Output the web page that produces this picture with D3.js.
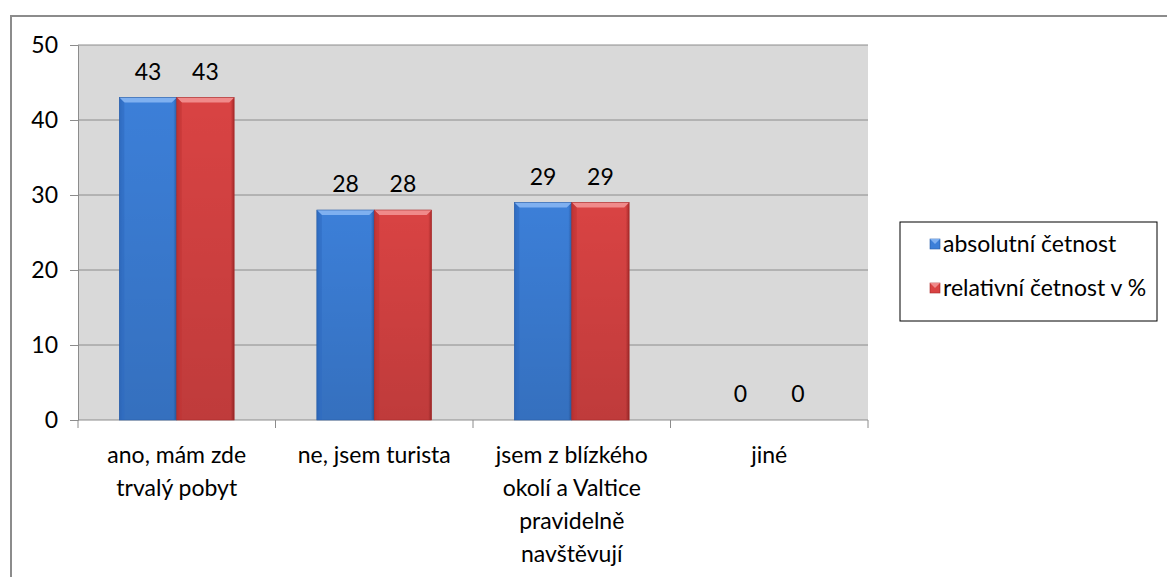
<!DOCTYPE html>
<html>
<head>
<meta charset="utf-8">
<script src="https://cdn.jsdelivr.net/npm/d3@7"></script>
<style>
  body { margin: 0; background: #fff; }
  svg { display: block; font-family: Lato, "Open Sans", sans-serif; }
</style>
</head>
<body>
<script>
// data
const categories = [
  ["ano, mám zde", "trvalý pobyt"],
  ["ne, jsem turista"],
  ["jsem z blízkého", "okolí a Valtice", "pravidelně", "navštěvují"],
  ["jiné"]
];
const seriesNames = ["absolutní četnost", "relativní četnost v %"];
const absolutni = [43, 28, 29, 0];
const relativni = [43, 28, 29, 0];
const yTicks = [0, 10, 20, 30, 40, 50];

const width = 1167, height = 577;
const plot = { left: 78, right: 868, top: 45, bottom: 420 };
const fs = 23;

const svg = d3.select("body").append("svg")
  .attr("width", width).attr("height", height);

// outer frame (cut off at right/bottom like the screenshot)
svg.append("path")
  .attr("d", `M11,${height + 2} V16 H${width + 2}`)
  .attr("fill", "none").attr("stroke", "#8c8c8c").attr("stroke-width", 2);

const x = d3.scaleBand().domain(d3.range(categories.length))
  .range([plot.left, plot.right]);
const xs = d3.scaleBand().domain([0, 1])
  .range([0, x.bandwidth()]).paddingOuter(0.72).paddingInner(0);
const y = d3.scaleLinear().domain([0, 50]).range([plot.bottom, plot.top]);

const defs = svg.append("defs");
const colors = [
  { main: "#3c7fd8", light: "#7fb0f0", dark: "#2a5ea8", side: "#2f6bbf" },
  { main: "#d94343", light: "#f08a8a", dark: "#a82a2a", side: "#bf3333" }
];
colors.forEach((c, i) => {
  const g = defs.append("linearGradient").attr("id", "bar" + i)
    .attr("x1", 0).attr("x2", 1).attr("y1", 0).attr("y2", 0);
  g.append("stop").attr("offset", 0).attr("stop-color", c.side);
  g.append("stop").attr("offset", 0.06).attr("stop-color", c.main);
  g.append("stop").attr("offset", 0.94).attr("stop-color", c.main);
  g.append("stop").attr("offset", 1).attr("stop-color", c.dark);
  const v = defs.append("linearGradient").attr("id", "shade" + i)
    .attr("x1", 0).attr("x2", 0).attr("y1", 0).attr("y2", 1);
  v.append("stop").attr("offset", 0).attr("stop-color", "#000").attr("stop-opacity", 0);
  v.append("stop").attr("offset", 1).attr("stop-color", "#000").attr("stop-opacity", 0.12);
});

// plot background
svg.append("rect")
  .attr("x", plot.left).attr("y", plot.top)
  .attr("width", plot.right - plot.left).attr("height", plot.bottom - plot.top)
  .attr("fill", "#d9d9d9");

// gridlines
svg.append("g").selectAll("line").data(yTicks.filter(d => d > 0)).join("line")
  .attr("x1", plot.left).attr("x2", plot.right)
  .attr("y1", d => y(d)).attr("y2", d => y(d))
  .attr("stroke", "#8c8c8c").attr("stroke-width", 1);

// y axis
const yAxis = svg.append("g")
  .attr("transform", `translate(${plot.left},0)`)
  .call(d3.axisLeft(y).tickValues(yTicks).tickSize(8).tickPadding(12));
yAxis.select(".domain").attr("stroke", "#8c8c8c");
yAxis.selectAll(".tick line").attr("stroke", "#8c8c8c");
yAxis.selectAll("text").attr("font-size", fs).attr("fill", "#000")
  .attr("font-family", "Lato, sans-serif");

// x axis
const xAxisG = svg.append("g").attr("transform", `translate(0,${plot.bottom})`);
xAxisG.append("line").attr("x1", plot.left).attr("x2", plot.right)
  .attr("stroke", "#8c8c8c");
xAxisG.selectAll("line.t").data(d3.range(categories.length + 1)).join("line")
  .attr("class", "t")
  .attr("x1", i => i < categories.length ? x(i) : plot.right)
  .attr("x2", i => i < categories.length ? x(i) : plot.right)
  .attr("y1", 0).attr("y2", 8).attr("stroke", "#8c8c8c");
xAxisG.selectAll("text").data(categories).join("text")
  .attr("text-anchor", "middle").attr("font-size", fs).attr("fill", "#000")
  .attr("transform", (d, i) => `translate(${x(i) + x.bandwidth() / 2},0)`)
  .selectAll("tspan").data(d => d).join("tspan")
  .attr("x", 0).attr("y", (d, j) => 43 + j * 33).text(d => d);

// bars
const series = [absolutni, relativni];
series.forEach((vals, s) => {
  const g = svg.append("g");
  vals.forEach((v, i) => {
    if (v <= 0) return;
    const bx = x(i) + xs(s), bw = xs.bandwidth();
    const by = y(v), bh = y(0) - y(v);
    const c = colors[s];
    g.append("rect").attr("x", bx).attr("y", by).attr("width", bw).attr("height", bh)
      .attr("fill", `url(#bar${s})`);
    g.append("rect").attr("x", bx).attr("y", by).attr("width", bw).attr("height", bh)
      .attr("fill", `url(#shade${s})`);
    // top bevel
    const b = 5;
    g.append("path")
      .attr("d", `M${bx},${by} H${bx + bw} L${bx + bw - b},${by + b} H${bx + b} Z`)
      .attr("fill", c.light);
    g.append("path")
      .attr("d", `M${bx},${by} L${bx + b},${by + b} V${by + bh} H${bx} Z`)
      .attr("fill", c.side).attr("opacity", 0.6);
    g.append("rect").attr("x", bx).attr("y", by).attr("width", bw).attr("height", bh)
      .attr("fill", "none").attr("stroke", c.dark).attr("stroke-width", 0.6);
  });
  // value labels
  svg.append("g").selectAll("text").data(vals).join("text")
    .attr("x", (d, i) => x(i) + xs(s) + xs.bandwidth() / 2)
    .attr("y", d => y(d) - 18)
    .attr("text-anchor", "middle").attr("font-size", fs).attr("fill", "#000")
    .text(d => d);
});

// legend
const lg = svg.append("g").attr("transform", "translate(900,222)");
lg.append("rect").attr("width", 257).attr("height", 99)
  .attr("fill", "#fff").attr("stroke", "#000").attr("stroke-width", 1);
seriesNames.forEach((name, i) => {
  const ly = 22 + i * 44;
  lg.append("rect").attr("x", 30).attr("y", ly - 5).attr("width", 10).attr("height", 10)
    .attr("fill", `url(#bar${i})`).attr("stroke", colors[i].dark).attr("stroke-width", 0.6);
  lg.append("path")
    .attr("d", `M30,${ly - 5} H40 L35,${ly} Z`).attr("fill", colors[i].light);
  lg.append("text").attr("x", 43).attr("y", ly).attr("dy", "0.35em")
    .attr("font-size", fs).attr("fill", "#000").text(name);
});
</script>
</body>
</html>
